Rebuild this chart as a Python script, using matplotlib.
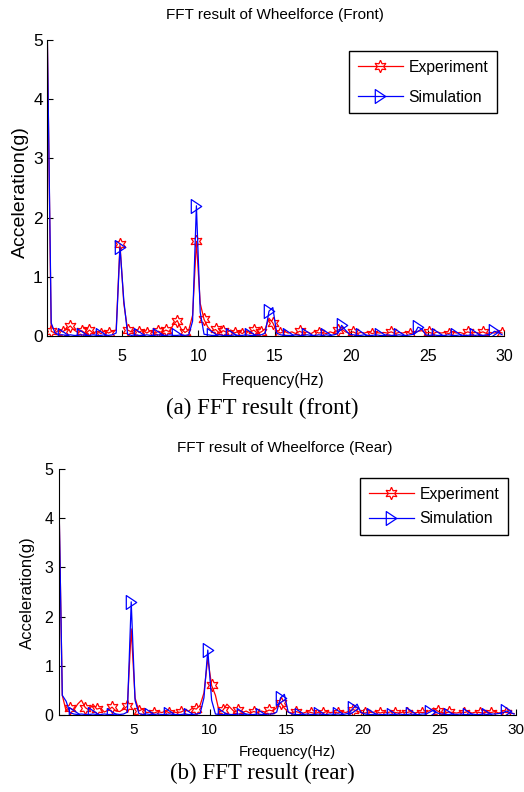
import numpy as np
import matplotlib.pyplot as plt
from matplotlib.path import Path

plt.rcParams['font.family'] = ['Liberation Sans', 'DejaVu Sans']

# ---------------------------------------------------------------------------
# FFT bins (Hz)
freq = [0.125, 0.375, 0.625, 0.875, 1.125, 1.375, 1.625, 1.875,
        2.125, 2.375, 2.625, 2.875, 3.125, 3.375, 3.625, 3.875,
        4.125, 4.375, 4.625, 4.875, 5.125, 5.375, 5.625, 5.875,
        6.125, 6.375, 6.625, 6.875, 7.125, 7.375, 7.625, 7.875,
        8.125, 8.375, 8.625, 8.875, 9.125, 9.375, 9.625, 9.875,
        10.125, 10.375, 10.625, 10.875, 11.125, 11.375, 11.625, 11.875,
        12.125, 12.375, 12.625, 12.875, 13.125, 13.375, 13.625, 13.875,
        14.125, 14.375, 14.625, 14.875, 15.125, 15.375, 15.625, 15.875,
        16.125, 16.375, 16.625, 16.875, 17.125, 17.375, 17.625, 17.875,
        18.125, 18.375, 18.625, 18.875, 19.125, 19.375, 19.625, 19.875,
        20.125, 20.375, 20.625, 20.875, 21.125, 21.375, 21.625, 21.875,
        22.125, 22.375, 22.625, 22.875, 23.125, 23.375, 23.625, 23.875,
        24.125, 24.375, 24.625, 24.875, 25.125, 25.375, 25.625, 25.875,
        26.125, 26.375, 26.625, 26.875, 27.125, 27.375, 27.625, 27.875,
        28.125, 28.375, 28.625, 28.875, 29.125, 29.375, 29.625, 29.875]

# front wheel, acceleration (g)
front_exp = [5.0, 0.08, 0.05, 0.10, 0.07, 0.12, 0.17, 0.10,
             0.06, 0.09, 0.04, 0.10, 0.05, 0.08, 0.04, 0.09,
             0.05, 0.08, 0.10, 1.55, 0.55, 0.10, 0.07, 0.11,
             0.06, 0.10, 0.05, 0.09, 0.04, 0.08, 0.06, 0.10,
             0.07, 0.20, 0.26, 0.12, 0.06, 0.10, 0.35, 1.60,
             0.55, 0.28, 0.15, 0.08, 0.11, 0.05, 0.09, 0.06,
             0.10, 0.05, 0.08, 0.04, 0.09, 0.06, 0.10, 0.05,
             0.07, 0.12, 0.30, 0.22, 0.08, 0.05, 0.08, 0.05,
             0.07, 0.04, 0.08, 0.05, 0.07, 0.04, 0.08, 0.05,
             0.06, 0.04, 0.07, 0.05, 0.10, 0.12, 0.07, 0.05,
             0.07, 0.04, 0.06, 0.05, 0.07, 0.04, 0.06, 0.05,
             0.06, 0.05, 0.07, 0.04, 0.06, 0.05, 0.07, 0.04,
             0.06, 0.08, 0.09, 0.05, 0.06, 0.04, 0.07, 0.05,
             0.06, 0.04, 0.07, 0.05, 0.06, 0.04, 0.07, 0.05,
             0.06, 0.05, 0.07, 0.04, 0.06, 0.05, 0.07, 0.05]

front_sim = [5.0, 0.22, 0.05, 0.02, 0.02, 0.01, 0.02, 0.01,
             0.01, 0.02, 0.01, 0.01, 0.02, 0.01, 0.01, 0.02,
             0.01, 0.02, 0.05, 1.50, 0.60, 0.03, 0.01, 0.02,
             0.01, 0.01, 0.02, 0.01, 0.01, 0.02, 0.01, 0.01,
             0.02, 0.01, 0.01, 0.02, 0.01, 0.02, 0.25, 2.20,
             0.40, 0.03, 0.02, 0.01, 0.01, 0.02, 0.01, 0.01,
             0.01, 0.02, 0.01, 0.01, 0.02, 0.01, 0.01, 0.02,
             0.02, 0.05, 0.42, 0.48, 0.05, 0.02, 0.01, 0.01,
             0.01, 0.02, 0.01, 0.01, 0.02, 0.01, 0.01, 0.02,
             0.01, 0.02, 0.01, 0.02, 0.04, 0.18, 0.10, 0.03,
             0.02, 0.01, 0.01, 0.02, 0.01, 0.01, 0.02, 0.01,
             0.01, 0.02, 0.01, 0.01, 0.02, 0.01, 0.01, 0.02,
             0.03, 0.15, 0.12, 0.02, 0.01, 0.02, 0.01, 0.01,
             0.01, 0.02, 0.01, 0.01, 0.02, 0.01, 0.01, 0.02,
             0.01, 0.02, 0.01, 0.02, 0.03, 0.08, 0.06, 0.02]

# rear wheel, acceleration (g)
rear_exp = [5.0, 0.40, 0.08, 0.14, 0.10, 0.22, 0.30, 0.15,
            0.10, 0.22, 0.12, 0.14, 0.06, 0.10, 0.16, 0.08,
            0.07, 0.12, 0.18, 1.75, 0.35, 0.08, 0.12, 0.05,
            0.06, 0.04, 0.07, 0.05, 0.08, 0.04, 0.06, 0.05,
            0.06, 0.10, 0.08, 0.14, 0.12, 0.20, 0.45, 1.15,
            0.60, 0.40, 0.06, 0.10, 0.22, 0.14, 0.06, 0.10,
            0.05, 0.08, 0.04, 0.07, 0.05, 0.08, 0.06, 0.10,
            0.08, 0.15, 0.25, 0.14, 0.06, 0.04, 0.07, 0.05,
            0.04, 0.07, 0.05, 0.03, 0.06, 0.04, 0.07, 0.05,
            0.06, 0.04, 0.07, 0.05, 0.08, 0.11, 0.08, 0.05,
            0.04, 0.06, 0.05, 0.07, 0.04, 0.06, 0.05, 0.07,
            0.05, 0.04, 0.06, 0.05, 0.07, 0.04, 0.06, 0.05,
            0.06, 0.09, 0.14, 0.08, 0.05, 0.04, 0.06, 0.05,
            0.04, 0.06, 0.05, 0.07, 0.04, 0.06, 0.05, 0.04,
            0.06, 0.05, 0.07, 0.04, 0.06, 0.05, 0.04, 0.03]

rear_sim = [5.0, 0.40, 0.28, 0.05, 0.02, 0.01, 0.02, 0.01,
            0.01, 0.02, 0.01, 0.01, 0.02, 0.01, 0.01, 0.02,
            0.01, 0.02, 0.06, 2.30, 0.30, 0.03, 0.01, 0.02,
            0.01, 0.01, 0.02, 0.01, 0.01, 0.02, 0.01, 0.01,
            0.01, 0.02, 0.01, 0.01, 0.02, 0.03, 0.35, 1.32,
            0.30, 0.02, 0.01, 0.01, 0.02, 0.01, 0.01, 0.02,
            0.01, 0.02, 0.01, 0.01, 0.02, 0.01, 0.01, 0.02,
            0.02, 0.06, 0.35, 0.42, 0.06, 0.02, 0.01, 0.01,
            0.01, 0.02, 0.01, 0.01, 0.02, 0.01, 0.01, 0.02,
            0.01, 0.02, 0.01, 0.02, 0.04, 0.14, 0.22, 0.05,
            0.02, 0.01, 0.01, 0.02, 0.01, 0.01, 0.02, 0.01,
            0.01, 0.02, 0.01, 0.01, 0.02, 0.01, 0.01, 0.02,
            0.02, 0.06, 0.10, 0.04, 0.02, 0.01, 0.01, 0.02,
            0.01, 0.02, 0.01, 0.01, 0.02, 0.01, 0.01, 0.02,
            0.01, 0.02, 0.02, 0.03, 0.04, 0.08, 0.05, 0.02]

# ---------------------------------------------------------------------------
# marker placement (indices into freq)
front_exp_marks = [int(round(1.1 + 2.5*k)) for k in range(24)] + \
    [int(round(61 + 4.85*k)) for k in range(13)]
rear_exp_marks = [int(round(3 + 3.68*k)) for k in range(32)]
sim_marks = [4, 9, 14, 19, 24, 29, 34, 39, 43, 48, 53, 58, 63, 68, 73, 77,
             82, 87, 92, 97, 102, 107, 112, 117]

hexagram = (6, 1, 0)
tri_right = Path([(-0.75, 1), (0.75, 0), (-0.75, -1), (-0.75, 1)],
                 [Path.MOVETO, Path.LINETO, Path.LINETO, Path.CLOSEPOLY])

W, H = 524, 792
fig = plt.figure(figsize=(W/100, H/100), dpi=100)

ax1 = fig.add_axes([47/W, 1 - 336/H, 457/W, 296/H])
ax2 = fig.add_axes([59/W, 1 - 715/H, 457/W, 246/H])

panels = [(ax1, front_exp, front_sim, front_exp_marks, 0.1),
          (ax2, rear_exp, rear_sim, rear_exp_marks, 0.16)]

for ax, exp, sim, exp_marks, x0 in panels:
    ax.plot(freq, exp, color='r', lw=0.9, marker=hexagram, ms=9,
            mfc='none', mec='r', mew=0.9, markevery=exp_marks,
            label='Experiment')
    ax.plot(freq, sim, color='b', lw=0.9, marker=tri_right, ms=10,
            mfc='none', mec='b', mew=0.9, markevery=sim_marks,
            label='Simulation')
    ax.set_xlim(x0, 30)
    ax.set_ylim(0, 5)
    ax.set_xticks([5, 10, 15, 20, 25, 30])
    ax.set_yticks([0, 1, 2, 3, 4, 5])
    ax.spines[['top', 'right']].set_visible(False)
    for s in ('left', 'bottom'):
        ax.spines[s].set_linewidth(0.8)
    ax.tick_params(direction='in', length=4, width=0.8, labelsize=11)

ax1.tick_params(axis='x', pad=9, labelsize=11.5)
ax1.tick_params(axis='y', pad=3, labelsize=12.5)
ax2.tick_params(axis='x', pad=6)
ax2.tick_params(axis='y', pad=4, labelsize=11.5)

for ax, top, right, lsp in ((ax1, 51, 497, 0.95), (ax2, 478, 508, 0.6)):
    leg = ax.legend(loc='upper right', bbox_to_anchor=(right/W, 1 - top/H),
                    bbox_transform=fig.transFigure, borderaxespad=0,
                    fancybox=False, edgecolor='black', framealpha=1,
                    fontsize=11.3, handlelength=2.9, handletextpad=0.35,
                    labelspacing=lsp, borderpad=0.55)
    leg.get_frame().set_linewidth(1.0)

# titles / labels / captions
fig.text(275/W, 1 - 15/H, 'FFT result of Wheelforce (Front)', fontsize=11,
         ha='center', va='center')
fig.text(273/W, 1 - 380/H, 'Frequency(Hz)', fontsize=11.2,
         ha='center', va='center')
fig.text(20/W, 1 - 192/H, 'Acceleration(g)', fontsize=14, rotation=90,
         ha='center', va='center')
fig.text(262/W, 1 - 408/H, '(a) FFT result (front)', fontsize=16.5,
         family=['Liberation Serif', 'DejaVu Serif'], ha='center', va='center')

fig.text(285/W, 1 - 448/H, 'FFT result of Wheelforce (Rear)', fontsize=11,
         ha='center', va='center')
fig.text(287/W, 1 - 752/H, 'Frequency(Hz)', fontsize=10.5,
         ha='center', va='center')
fig.text(27/W, 1 - 593/H, 'Acceleration(g)', fontsize=12, rotation=90,
         ha='center', va='center')
fig.text(262/W, 1 - 773/H, '(b) FFT result (rear)', fontsize=16.5,
         family=['Liberation Serif', 'DejaVu Serif'], ha='center', va='center')

fig.savefig('out.png', dpi=100)
